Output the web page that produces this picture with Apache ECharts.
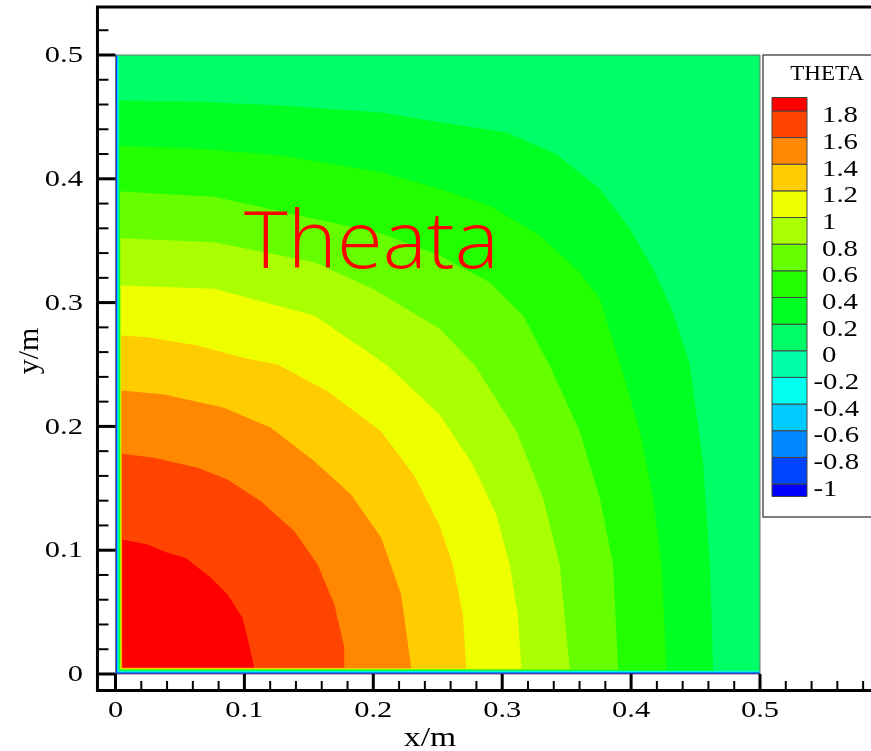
<!DOCTYPE html>
<html><head><meta charset="utf-8">
<script src="https://cdn.jsdelivr.net/npm/echarts@6/dist/echarts.min.js"></script>
<style>html,body{margin:0;padding:0;background:#fff}#c{width:871px;height:751px}</style>
</head><body><div id="c"></div>
<script>
// ---------- data ----------
const levels = [-1, -0.8, -0.6, -0.4, -0.2, 0, 0.2, 0.4, 0.6, 0.8, 1, 1.2, 1.4, 1.6, 1.8];
const levelLabels = ['-1', '-0.8', '-0.6', '-0.4', '-0.2', '0', '0.2', '0.4', '0.6', '0.8', '1', '1.2', '1.4', '1.6', '1.8'];
const bandColors = ['#0000ff', '#0044ff', '#0088ff', '#00ccff', '#00ffee', '#00ffaa', '#00ff66', '#00ff22',
  '#22ff00', '#66ff00', '#aaff00', '#eeff00', '#ffcc00', '#ff8800', '#ff4400', '#ff0000'];
// distance (m) from the walls x=0 and y=0 at which each level is crossed in the thin wall layer
const wallGap = [0.0006, 0.0010, 0.0014, 0.0018, 0.0022, 0.0026, 0.0029, 0.0032, 0.0035, 0.0038, 0.0041, 0.0044, 0.0047, 0.0050, 0.0053];
// contour lines (x, y in m), from wall x=0 to wall y=0
const contour_0_2 = [[0,0.4633],[0.065,0.4622],[0.1284,0.4592],[0.206,0.4535],[0.2514,0.4457],[0.3032,0.4375],[0.342,0.42],[0.3757,0.3919],[0.399,0.3596],[0.4171,0.3273],[0.4326,0.2923],[0.4456,0.2492],[0.456,0.1692],[0.4611,0.0884],[0.4637,0]];
const contour_0_4 = [[0,0.4264],[0.065,0.4242],[0.1284,0.4188],[0.206,0.4053],[0.2514,0.3919],[0.2902,0.3784],[0.329,0.3542],[0.3601,0.3246],[0.3757,0.3031],[0.3918,0.2496],[0.4068,0.1961],[0.4171,0.1423],[0.4236,0.0884],[0.4275,0]];
const contour_0_6 = [[0,0.3897],[0.0765,0.3855],[0.1542,0.3677],[0.206,0.356],[0.2514,0.338],[0.2902,0.3165],[0.3161,0.2896],[0.3368,0.2492],[0.3601,0.1961],[0.3757,0.1423],[0.386,0.0884],[0.3899,0]];
const contour_0_8 = [[0,0.352],[0.0765,0.3488],[0.1542,0.3326],[0.2,0.311],[0.2514,0.2788],[0.2786,0.2496],[0.311,0.1961],[0.3316,0.1423],[0.3446,0.0884],[0.3524,0]];
const contour_1_0 = [[0,0.3138],[0.0765,0.3111],[0.1542,0.2896],[0.21,0.25],[0.2514,0.2096],[0.2772,0.1692],[0.2954,0.1288],[0.3058,0.0884],[0.3122,0.048],[0.3148,0]];
const contour_1_2 = [[0,0.2734],[0.0247,0.272],[0.0636,0.2654],[0.1024,0.2546],[0.1257,0.25],[0.1646,0.2284],[0.206,0.196],[0.232,0.16],[0.2514,0.12],[0.2617,0.0884],[0.2695,0.048],[0.2721,0]];
const contour_1_4 = [[0,0.229],[0.0377,0.2258],[0.0843,0.215],[0.1206,0.1989],[0.1542,0.1719],[0.1827,0.145],[0.2061,0.11],[0.2216,0.0642],[0.2294,0]];
const contour_1_6 = [[0,0.1779],[0.0299,0.1746],[0.0636,0.1666],[0.0869,0.1571],[0.1128,0.1396],[0.1387,0.1153],[0.1568,0.0884],[0.1698,0.0561],[0.1775,0.0212],[0.1775,0]];
const contour_1_8 = [[0,0.1086],[0.0247,0.1046],[0.0403,0.0979],[0.0545,0.0938],[0.074,0.0777],[0.0869,0.0642],[0.0985,0.0454],[0.1024,0.0292],[0.1076,0]];
const contourLines = { '0.2': contour_0_2, '0.4': contour_0_4, '0.6': contour_0_6, '0.8': contour_0_8, '1': contour_1_0,
  '1.2': contour_1_2, '1.4': contour_1_4, '1.6': contour_1_6, '1.8': contour_1_8 };
const domainMax = 0.5;   // plate is 0..0.5 m in x and y

const xMajorTicks = [0, 0.1, 0.2, 0.3, 0.4, 0.5];
const xTickLabels = ['0', '0.1', '0.2', '0.3', '0.4', '0.5'];
const xMinorTicks = [0.02,0.04,0.06,0.08,0.12,0.14,0.16,0.18,0.22,0.24,0.26,0.28,0.32,0.34,0.36,0.38,0.42,0.44,0.46,0.48,0.52,0.54,0.56,0.58];
const yMajorTicks = [0, 0.1, 0.2, 0.3, 0.4, 0.5];
const yTickLabels = ['0', '0.1', '0.2', '0.3', '0.4', '0.5'];
const yMinorTicks = [0.02,0.04,0.06,0.08,0.12,0.14,0.16,0.18,0.22,0.24,0.26,0.28,0.32,0.34,0.36,0.38,0.42,0.44,0.46,0.48,0.52];

// ---------- layout ----------
const X0PX = 115.5, XS = 1289, Y0PX = 674, YS = 1238;
const xMin = -0.014, xMax = 0.6, yMin = -0.0133, yMax = 0.5388;
const gridLeft = X0PX + xMin * XS, gridTop = Y0PX - yMax * YS;
const gridW = (xMax - xMin) * XS, gridH = (yMax - yMin) * YS;
const SERIF = '"Liberation Serif", "Times New Roman", serif';

// polygons: base fill, then region above each level
const polys = [{ pts: [[0,0],[0,domainMax],[domainMax,domainMax],[domainMax,0]], color: bandColors[0] }];
levels.forEach((lv, k) => {
  const g = wallGap[k];
  const line = contourLines[String(lv)];
  let pts;
  if (!line) pts = [[g,g],[g,domainMax],[domainMax,domainMax],[domainMax,g]];
  else pts = [[g,g]].concat(line.map(p => [Math.max(p[0], g), Math.max(p[1], g)]));
  polys.push({ pts, color: bandColors[k + 1] });
});

const tickItems = [];
xMajorTicks.forEach((v, i) => tickItems.push({ axis: 'x', v, major: true, label: xTickLabels[i] }));
xMinorTicks.forEach(v => tickItems.push({ axis: 'x', v, major: false }));
yMajorTicks.forEach((v, i) => tickItems.push({ axis: 'y', v, major: true, label: yTickLabels[i] }));
yMinorTicks.forEach(v => tickItems.push({ axis: 'y', v, major: false }));

// legend graphics
const legTop = 97.5, legBottom = 496.5, legStep = 26.65, legBase = 484;
const yb = k => legBase - k * legStep;
const legendEls = [];
legendEls.push({ type: 'rect', z: 50, shape: { x: 763, y: 55, width: 140, height: 462 },
  style: { fill: '#fff', stroke: '#555', lineWidth: 1.5 } });
legendEls.push({ type: 'text', z: 51, x: 827, y: 75, scaleX: 1.15,
  style: { text: 'THETA', x: 0, y: 0, font: '20px ' + SERIF, fill: '#000', align: 'center', verticalAlign: 'middle', textAlign: 'center', textVerticalAlign: 'middle' } });
bandColors.forEach((c, b) => {
  const top = b === bandColors.length - 1 ? legTop : yb(b);
  const bottom = b === 0 ? legBottom : yb(b - 1);
  legendEls.push({ type: 'rect', z: 51, shape: { x: 772, y: top, width: 35, height: bottom - top },
    style: { fill: c, stroke: '#444', lineWidth: 1 } });
});
levelLabels.forEach((t, k) => {
  const neg = t.charAt(0) === '-';
  legendEls.push({ type: 'text', z: 51, x: neg ? 813.5 : 822, y: yb(k) + 5.5, scaleX: 1.25,
    style: { text: t, x: 0, y: 0, font: '23px ' + SERIF, fill: '#000', align: 'left', verticalAlign: 'middle', textAlign: 'left', textVerticalAlign: 'middle' } });
});

const chart = echarts.init(document.getElementById('c'), null, { renderer: 'canvas' });
chart.setOption({
  animation: false,
  backgroundColor: '#fff',
  grid: { left: gridLeft, top: gridTop, width: gridW, height: gridH, outerBoundsMode: 'none', containLabel: false,
    show: true, borderColor: '#000', borderWidth: 3, backgroundColor: 'transparent' },
  xAxis: { type: 'value', min: xMin, max: xMax, axisLine: { show: false }, axisTick: { show: false }, axisLabel: { show: false }, splitLine: { show: false } },
  yAxis: { type: 'value', min: yMin, max: yMax, axisLine: { show: false }, axisTick: { show: false }, axisLabel: { show: false }, splitLine: { show: false } },
  series: [
    {
      type: 'custom', silent: true, z: 2,
      data: polys.map(() => [0, 0]),
      renderItem: (params, api) => {
        const p = polys[params.dataIndex];
        return { type: 'polygon', shape: { points: p.pts.map(q => api.coord(q)) }, style: { fill: p.color } };
      }
    },
    {
      type: 'custom', silent: true, z: 3,
      data: [[0, 0]],
      renderItem: (params, api) => {
        const pts = [[0,0],[0,domainMax],[domainMax,domainMax],[domainMax,0]].map(q => api.coord(q));
        return { type: 'polygon', shape: { points: pts }, style: { fill: 'none', stroke: '#707070', lineWidth: 1 } };
      }
    },
    {
      type: 'custom', silent: true, z: 4,
      data: tickItems.map(() => [0, 0]),
      renderItem: (params, api) => {
        const t = tickItems[params.dataIndex];
        const ch = [];
        if (t.axis === 'x') {
          const p = api.coord([t.v, yMin]);
          const len = t.major ? 16.5 : 9.5;
          ch.push({ type: 'line', shape: { x1: p[0], y1: p[1], x2: p[0], y2: p[1] - len }, style: { stroke: '#000', lineWidth: t.major ? 3 : 2 } });
          if (t.label != null) ch.push({ type: 'text', x: p[0], y: p[1] + 20, scaleX: 1.27,
            style: { text: t.label, x: 0, y: 0, font: '24px ' + SERIF, fill: '#000', align: 'center', verticalAlign: 'middle' } });
        } else {
          const p = api.coord([xMin, t.v]);
          const len = t.major ? 18 : 11;
          ch.push({ type: 'line', shape: { x1: p[0], y1: p[1], x2: p[0] + len, y2: p[1] }, style: { stroke: '#000', lineWidth: t.major ? 3 : 2 } });
          if (t.label != null) ch.push({ type: 'text', x: p[0] - 14.5, y: p[1] + 1, scaleX: 1.27,
            style: { text: t.label, x: 0, y: 0, font: '24px ' + SERIF, fill: '#000', align: 'right', verticalAlign: 'middle' } });
        }
        return { type: 'group', children: ch };
      }
    }
  ],
  graphic: {
    elements: legendEls.concat([
      { type: 'text', z: 100, x: 244, y: 245, scaleX: 1.055,
        style: { text: 'Theata', x: 0, y: 0, font: '300 79px "Open Sans", "Liberation Sans", sans-serif', fill: '#ff0000', align: 'left', verticalAlign: 'middle', textAlign: 'left', textVerticalAlign: 'middle' } },
      { type: 'text', z: 100, x: 430, y: 739, scaleX: 1.2,
        style: { text: 'x/m', x: 0, y: 0, font: '28px ' + SERIF, fill: '#000', align: 'center', verticalAlign: 'middle', textAlign: 'center', textVerticalAlign: 'middle' } },
      { type: 'text', z: 100, x: 30, y: 351, rotation: Math.PI / 2,
        style: { text: 'y/m', x: 0, y: 0, font: '30px ' + SERIF, fill: '#000', align: 'center', verticalAlign: 'middle', textAlign: 'center', textVerticalAlign: 'middle' } }
    ])
  }
});
</script>
</body></html>
